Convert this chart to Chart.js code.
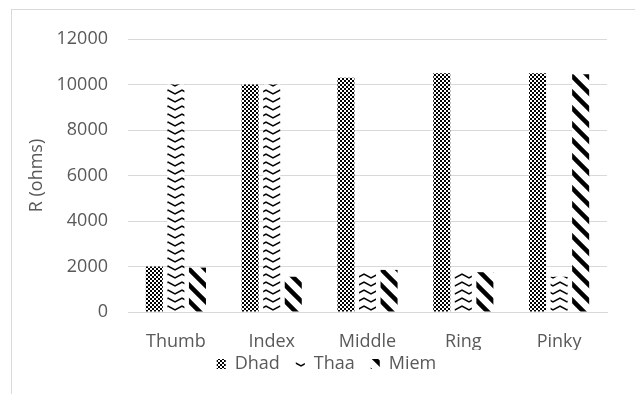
<!DOCTYPE html>
<html>
<head>
<meta charset="utf-8">
<script src="https://cdn.jsdelivr.net/npm/chart.js@4.4.1/dist/chart.umd.min.js"></script>
<style>
  html, body { margin: 0; padding: 0; background: #fff; }
  #wrap { width: 635px; height: 394px; position: relative; }
</style>
</head>
<body>
<div id="wrap"><canvas id="chart" width="635" height="394"></canvas></div>
<script>
// Finger resistance readings per letter sign
const fingers = ['Thumb', 'Index', 'Middle', 'Ring', 'Pinky'];
const dhad = [2000, 10000, 10300, 10500, 10500];
const thaa = [10000, 10000, 1800, 1750, 1550];
const miem = [1950, 1550, 1850, 1750, 10450];
const seriesNames = ['Dhad', 'Thaa', 'Miem'];
const yAxisTitle = 'R (ohms)';

const TEXT = '#595959';
const GRID = '#d9d9d9';
const FONT = { family: '"Open Sans", sans-serif', size: 18 };

const canvas = document.getElementById('chart');
const ctx = canvas.getContext('2d');

// Small repeating tiles used as bar fills
function tile(w, h, paint) {
  const c = document.createElement('canvas');
  c.width = w; c.height = h;
  const g = c.getContext('2d');
  g.fillStyle = '#fff';
  g.fillRect(0, 0, w, h);
  paint(g);
  return ctx.createPattern(c, 'repeat');
}

// fine checkerboard
const checkerFill = tile(4, 4, g => {
  g.fillStyle = '#000';
  g.fillRect(0, 0, 2, 2);
  g.fillRect(2, 2, 2, 2);
});

// stacked chevrons
const chevronFill = tile(14, 8, g => {
  g.strokeStyle = '#000';
  g.lineWidth = 1.5;
  g.beginPath();
  g.moveTo(-1, 1.5);
  g.lineTo(7, 6);
  g.lineTo(15, 1.5);
  g.stroke();
});

// wide downward diagonal
const stripeFill = tile(16, 16, g => {
  g.strokeStyle = '#000';
  g.lineWidth = 4.5;
  for (const k of [-16, 0, 16]) {
    g.beginPath();
    g.moveTo(k - 4, -4);
    g.lineTo(k + 20, 20);
    g.stroke();
  }
});

// light frame around the whole chart
const framePlugin = {
  id: 'frame',
  beforeDraw(chart) {
    const c = chart.ctx;
    c.save();
    c.fillStyle = '#fff';
    c.fillRect(0, 0, chart.width, chart.height);
    c.strokeStyle = GRID;
    c.lineWidth = 1;
    c.strokeRect(11.5, 9.5, chart.width + 20, chart.height + 20);
    c.restore();
  }
};

// pull the legend row up under the category labels and a bit to the right
const legendShift = {
  id: 'legendShift',
  afterLayout(chart) {
    const lg = chart.legend;
    if (lg) {
      lg.left += 16; lg.right += 16;
      lg.top -= 11; lg.bottom -= 11;
    }
  }
};

new Chart(ctx, {
  type: 'bar',
  data: {
    labels: fingers,
    datasets: [
      { label: seriesNames[0], data: dhad, backgroundColor: checkerFill },
      { label: seriesNames[1], data: thaa, backgroundColor: chevronFill },
      { label: seriesNames[2], data: miem, backgroundColor: stripeFill }
    ]
  },
  options: {
    responsive: false,
    animation: false,
    devicePixelRatio: 1,
    layout: { padding: { left: 14, right: 28, top: 39, bottom: 0 } },
    datasets: {
      bar: { barPercentage: 0.79, categoryPercentage: 0.675, borderWidth: 0 }
    },
    plugins: {
      tooltip: { enabled: false },
      legend: {
        position: 'bottom',
        labels: {
          color: TEXT,
          font: FONT,
          boxWidth: 9,
          boxHeight: 10,
          padding: 16
        }
      }
    },
    scales: {
      x: {
        grid: { display: false, drawTicks: false },
        border: { display: true, color: GRID, width: 1 },
        ticks: { color: TEXT, font: FONT, padding: 19 },
        afterFit(scale) { scale.height = 38; }
      },
      y: {
        min: 0,
        max: 12000,
        ticks: {
          stepSize: 2000, color: TEXT, font: FONT, padding: 20,
          callback: v => String(v)
        },
        grid: { color: GRID, lineWidth: 1, drawTicks: false },
        border: { display: false },
        title: {
          display: true,
          text: yAxisTitle,
          color: TEXT,
          font: FONT,
          padding: { top: 12, bottom: 0 }
        },
        afterFit(scale) { scale.width = 114; }
      }
    }
  },
  plugins: [framePlugin, legendShift]
});
</script>
</body>
</html>
